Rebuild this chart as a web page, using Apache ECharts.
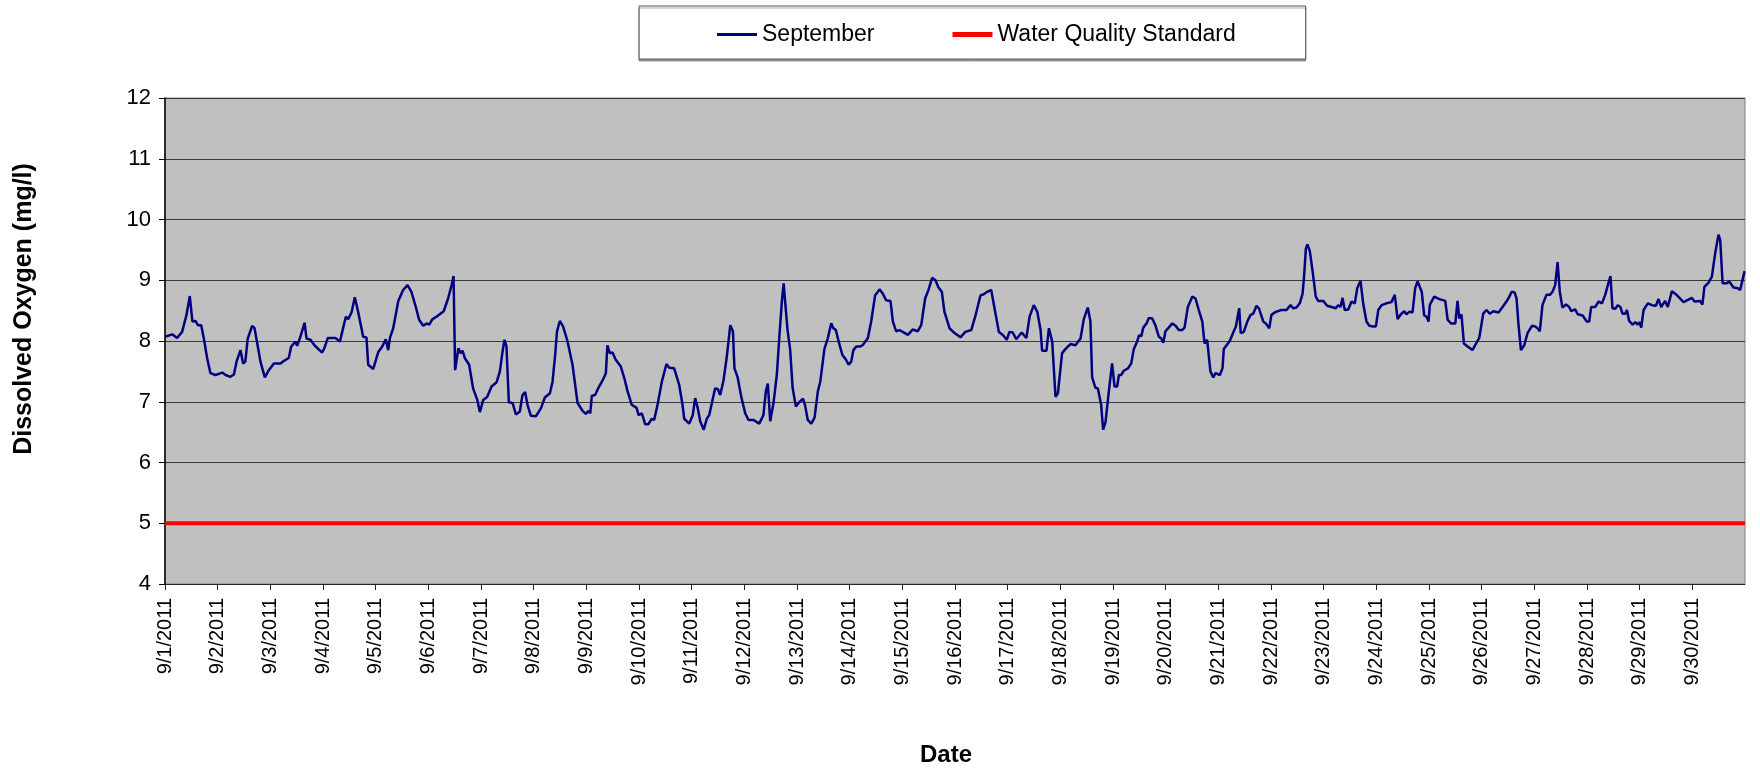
<!DOCTYPE html>
<html>
<head>
<meta charset="utf-8">
<script src="https://cdn.jsdelivr.net/npm/echarts@6/dist/echarts.min.js"></script>
<style>
html,body{margin:0;padding:0;background:#fff;}
#chart{width:1760px;height:772px;}
</style>
</head>
<body>
<div id="chart"></div>
<script>
// Hours since 9/1/2011 00:00 and dissolved oxygen (mg/l)
var hours = [0,3.3,5.5,7.8,9.8,11.3,12.5,13.9,15,16.5,17.7,19.2,20.7,23,26.1,27.6,29.8,31.4,32.6,34.4,35.6,36.6,37.7,39.7,40.8,42.3,43.5,45.5,47.3,49.6,52.6,54.1,56.4,57.5,59.5,60.2,61.7,63.6,64.5,66.3,68.1,71.6,72.6,74.2,77.7,
79.7,82.4,83.5,85,86.5,88,90.3,91.8,92.6,94.9,97.2,99,100.6,101.7,102.5,104,106.3,108.5,110.5,112.3,114.3,115.8,117.7,119.2,120.4,121.9,123.7,125.2,127,129,130.6,131.5,132.2,133.7,134.7,135.6,136.6,138.6,140.4,142.3,143.5,145,146.8,148.8,151.1,152.6,153.8,154.7,155.6,156.7,158.4,159.9,
161.7,162.9,164.1,165.2,166.7,169,171.3,173.1,175.4,176.6,177.8,178.6,179.9,181.4,183.4,185.7,188,190.3,191.8,193,193.8,194.5,196,197.5,199.4,200.9,201.6,202.7,203.9,205.4,207.7,209.3,210.8,212.7,214.9,215.8,217.3,218.8,220.3,221.8,222.9,224.4,226.4,228.5,229.8,232,234.3,235.8,236.6,238.9,
240.5,241.6,242.8,243.9,245.5,246.9,248,249.5,250.7,251.9,253,254.5,256,257.6,258.8,259.5,260.9,262.6,264.4,265.9,268.2,270.8,272.7,273.8,274.7,275.8,277.3,278.8,279.9,281.1,281.9,282.6,283.7,284.9,286,287.5,288.7,290.7,291.7,292.9,294.5,296,297.5,298.6,300.5,302,303.6,304.6,305.7,307.2,308.7,310.2,311.5,312.7,313.7,315,316.8,317.9,318.8,
320.3,321.8,323.6,325.6,327.1,328.6,330.6,331.7,333.2,334.7,336.2,338.5,340.8,343,344.6,346.4,347.9,349.6,351.1,352.5,354,355.2,357.5,359.8,362.5,364.7,367.4,369.2,371.6,373.1,374.7,376.5,378.3,380,381.8,383.6,384.8,386.3,387.9,390.4,392.5,394,395.9,397.5,399,399.7,
401.7,402.8,404.3,405.8,406.9,407.8,408.8,410.4,411.1,412.6,414.9,415.7,417.2,418.7,420.5,421.7,422.5,424,425.1,426.6,427.5,428.6,430.1,431.6,432.7,433.9,434.7,435.7,436.9,438.8,440.3,441.5,443,443.8,444.9,445.8,447.3,448.3,449.9,451.4,452.9,454,454.9,455.9,457.4,459,460.5,462,463.5,464.6,466.1,468.1,469.6,471.1,472.7,473.7,474.9,476.4,477.7,478.7,480.7,
481.9,482.5,483.4,485.2,486.8,488,488.7,489.5,490.2,491.6,493.2,494.7,495.9,497.4,498.6,500.5,501.6,503.2,504.2,506.2,508.8,511.1,512.9,514.1,515.6,517.1,518.4,519.1,519.9,520.6,521.7,523.2,524.4,525.5,527.8,529.6,531.6,533.5,534.6,535.7,536.6,537.6,539.2,540.7,542.2,543.3,544.8,546,547.5,548.8,550.6,551.8,552.9,554.4,556.6,558.9,560.4,
561.7,563.2,564.7,565.7,567,568.5,569.7,570.8,572.7,573.8,574.9,575.8,576.4,578.4,580.7,583.4,584.5,586,588,589,589.8,590.8,591.9,593.6,595.8,597.3,598.9,599.6,600.7,602.2,603.7,605.3,607.7,609.5,611.3,612.6,613.7,615,615.9,616.8,617.9,619.4,620.9,622.9,624.4,625.5,626.5,627.7,629.5,631.1,632.3,633.5,634.6,635.6,636.8,638.4,639.9,
640.8,642.6,643.8,646,647.9,649,649.9,651.8,653.3,654.8,656.3,657.5,658.7,659.6,660.9,662,663.2,664.2,665.4,666.2,667.2,668.8,670,671.1,671.9,672.7,673.8,675.7,677.6,679.4,680.6,681.8,683.6,684.8,686.7,688.5,692,695.8,697,699.6,700.6,701.5,703.4,704.9,706.4,707.9,708.7,709.8,711.7,712.8,714.8,716.7,717.8,719.8];

var september = [8.07,8.11,8.05,8.15,8.43,8.74,8.32,8.33,8.26,8.26,8.04,7.72,7.47,7.44,7.48,7.44,7.41,7.45,7.66,7.85,7.63,7.66,8.04,8.25,8.21,7.91,7.66,7.40,7.52,7.63,7.63,7.67,7.72,7.91,7.99,7.92,8.07,8.30,8.04,8.02,7.93,7.81,7.88,8.05,8.05,
7.99,8.40,8.36,8.47,8.72,8.48,8.07,8.06,7.61,7.54,7.82,7.91,8.03,7.85,8.05,8.21,8.66,8.84,8.92,8.81,8.56,8.35,8.25,8.29,8.27,8.36,8.40,8.44,8.49,8.70,8.92,9.07,7.52,7.88,7.80,7.84,7.72,7.61,7.22,7.03,6.83,7.03,7.08,7.25,7.32,7.50,7.82,8.02,7.91,6.99,6.98,6.79,
6.84,7.11,7.16,6.95,6.77,6.76,6.89,7.07,7.14,7.33,7.77,8.15,8.33,8.24,8.00,7.61,6.98,6.85,6.80,6.85,6.81,7.10,7.11,7.23,7.35,7.47,7.93,7.80,7.81,7.69,7.58,7.39,7.17,6.95,6.90,6.78,6.81,6.63,6.63,6.72,6.70,6.94,7.33,7.62,7.56,7.55,7.28,6.96,6.72,6.64,
6.78,7.06,6.89,6.68,6.54,6.72,6.78,7.03,7.22,7.21,7.11,7.35,7.74,8.26,8.16,7.55,7.41,7.08,6.81,6.70,6.70,6.64,6.78,7.17,7.30,6.68,6.98,7.44,8.04,8.65,8.95,8.92,8.18,7.85,7.23,6.92,6.98,7.05,6.94,6.70,6.64,6.74,7.17,7.33,7.87,8.04,8.29,8.21,8.18,7.96,7.77,7.70,7.61,7.66,7.85,7.91,7.91,7.93,7.91,
8.05,8.32,8.75,8.85,8.78,8.67,8.66,8.32,8.16,8.18,8.15,8.10,8.19,8.16,8.26,8.70,8.84,9.04,9.00,8.88,8.81,8.48,8.21,8.13,8.06,8.15,8.18,8.40,8.75,8.77,8.81,8.84,8.48,8.15,8.10,8.02,8.15,8.14,8.03,8.14,8.05,8.40,8.59,8.48,8.18,7.84,
7.84,8.21,7.99,7.08,7.14,7.15,7.80,7.87,7.85,7.95,7.93,7.91,8.04,8.36,8.55,8.33,7.40,7.23,7.22,6.95,6.54,6.67,7.17,7.63,7.25,7.25,7.44,7.44,7.51,7.55,7.63,7.87,7.99,8.09,8.08,8.22,8.29,8.38,8.37,8.25,8.07,8.04,7.97,8.16,8.22,8.29,8.25,8.18,8.18,8.22,8.56,8.73,8.70,8.51,8.32,7.96,8.02,7.50,7.40,7.47,7.44,
7.55,7.87,7.84,8.00,8.14,8.24,8.25,8.54,8.13,8.15,8.32,8.43,8.45,8.58,8.53,8.32,8.29,8.21,8.43,8.48,8.51,8.51,8.59,8.54,8.55,8.62,8.78,9.08,9.52,9.59,9.48,9.08,8.73,8.66,8.66,8.58,8.56,8.54,8.59,8.56,8.71,8.51,8.52,8.65,8.62,8.87,8.99,8.62,8.32,8.25,8.24,8.24,8.51,8.59,8.62,8.64,8.76,
8.36,8.44,8.49,8.44,8.48,8.47,8.87,8.98,8.81,8.42,8.40,8.32,8.60,8.73,8.69,8.66,8.35,8.29,8.29,8.66,8.37,8.44,7.96,7.91,7.85,7.95,8.05,8.05,8.45,8.51,8.45,8.49,8.47,8.56,8.65,8.73,8.81,8.80,8.70,8.26,7.85,7.93,8.13,8.25,8.24,8.21,8.16,8.59,8.76,8.76,8.81,8.92,9.30,8.81,8.55,8.60,8.56,
8.49,8.52,8.44,8.42,8.32,8.32,8.56,8.56,8.65,8.62,8.76,8.92,9.07,8.54,8.53,8.59,8.56,8.45,8.45,8.51,8.33,8.27,8.31,8.27,8.31,8.22,8.51,8.62,8.59,8.58,8.69,8.56,8.66,8.56,8.82,8.77,8.64,8.71,8.65,8.66,8.60,8.89,8.96,9.06,9.44,9.75,9.66,8.95,8.95,8.98,8.88,8.87,8.84,9.15];

var standardValue = 5;
var seriesNames = ['September', 'Water Quality Standard'];
var yTitle = 'Dissolved Oxygen (mg/l)';
var xTitle = 'Date';
var monthLabel = 9, yearLabel = 2011;

var sepData = hours.map(function (h, i) { return [h, september[i]]; });
var stdData = [[0, standardValue], [720, standardValue]];

var font = 'Liberation Sans, Arial, sans-serif';
var chart = echarts.init(document.getElementById('chart'), null, {renderer: 'canvas'});
chart.setOption({
  animation: false,
  backgroundColor: '#fff',
  textStyle: {fontFamily: font, color: '#000'},
  grid: {left: 165, right: 15, top: 98, bottom: 188, show: true, backgroundColor: '#C0C0C0', borderColor: '#808080', borderWidth: 1},
  legend: {
    data: [
      {name: seriesNames[0], icon: 'path://M0,0H40V3H0Z'},
      {name: seriesNames[1], icon: 'path://M0,0H40V5H0Z'}
    ],
    left: 639, top: 6,
    padding: [17, 70, 13, 78],
    itemGap: 78,
    itemWidth: 40, itemHeight: 14,
    symbolKeepAspect: true,
    backgroundColor: '#fff',
    borderColor: '#555', borderWidth: 1,
    shadowColor: 'rgba(0,0,0,0.35)', shadowOffsetX: 0, shadowOffsetY: 2, shadowBlur: 0,
    textStyle: {fontFamily: font, fontSize: 23, color: '#000'}
  },
  xAxis: {
    type: 'value', min: 0, max: 720, interval: 24,
    axisLine: {show: true, onZero: false, lineStyle: {color: '#222', width: 1}},
    axisTick: {show: true, length: 6, lineStyle: {color: '#222'}},
    splitLine: {show: false},
    axisLabel: {
      rotate: 90, fontSize: 20, color: '#000', fontFamily: font, margin: 14,
      showMaxLabel: false,
      formatter: function (v) {
        if (v >= 720) return '';
        return monthLabel + '/' + (Math.round(v / 24) + 1) + '/' + yearLabel;
      }
    }
  },
  yAxis: {
    type: 'value', min: 4, max: 12, interval: 1,
    axisLine: {show: true, lineStyle: {color: '#000', width: 1.5}},
    axisTick: {show: true, length: 6, lineStyle: {color: '#000'}},
    splitLine: {show: true, lineStyle: {color: '#3a3a3a', width: 1}},
    axisLabel: {fontSize: 22, color: '#000', fontFamily: font, margin: 14}
  },
  graphic: [
    {type: 'text', x: 24, y: 309, rotation: Math.PI / 2,
     style: {text: yTitle, font: 'bold 25px ' + font, fill: '#000', textAlign: 'center', textVerticalAlign: 'middle'}},
    {type: 'text', x: 946, y: 755,
     style: {text: xTitle, font: 'bold 24px ' + font, fill: '#000', textAlign: 'center', textVerticalAlign: 'middle'}}
  ],
  series: [
    {name: seriesNames[0], type: 'line', data: sepData, showSymbol: false, symbol: 'none',
     lineStyle: {color: '#000080', width: 2.5}, itemStyle: {color: '#000080'}, z: 3},
    {name: seriesNames[1], type: 'line', data: stdData, showSymbol: false, symbol: 'none',
     lineStyle: {color: '#FF0000', width: 4}, itemStyle: {color: '#FF0000'}, z: 2}
  ]
});
</script>
</body>
</html>
